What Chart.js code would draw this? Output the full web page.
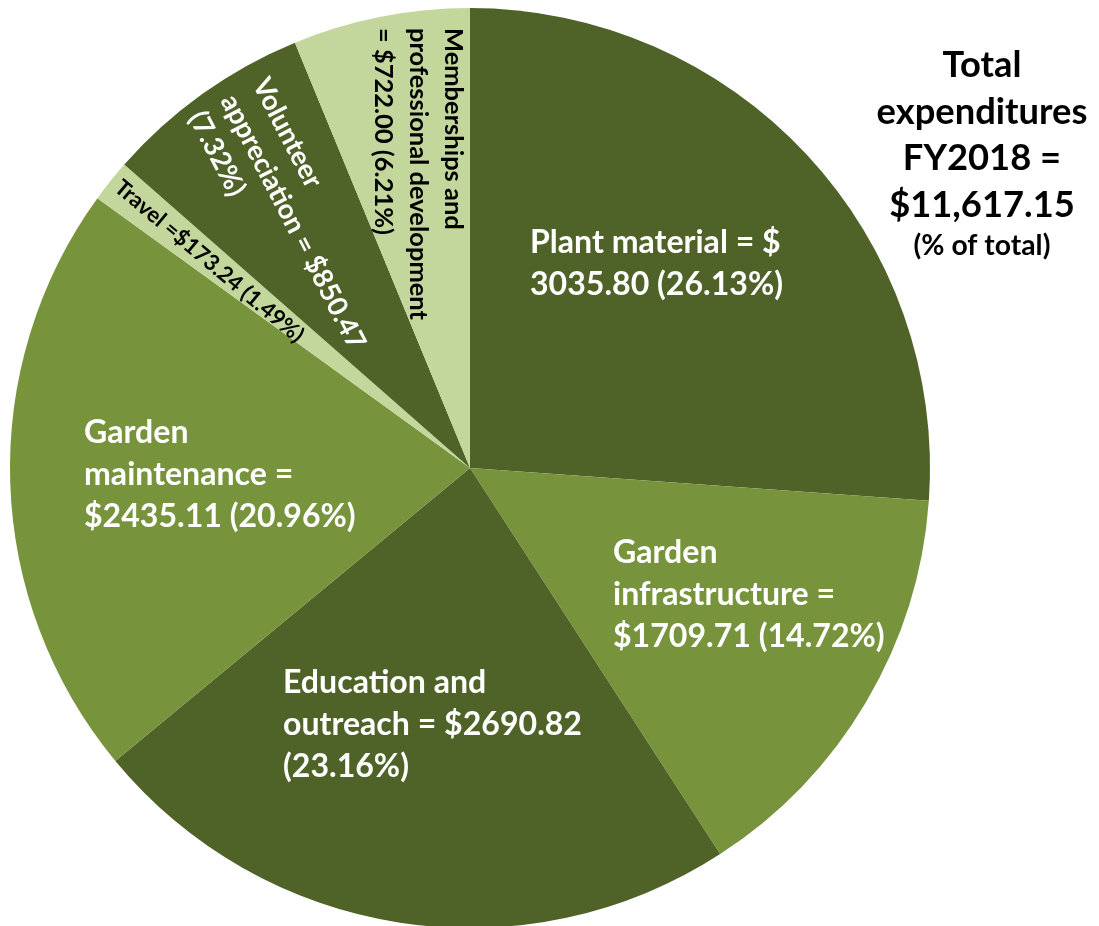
<!DOCTYPE html>
<html>
<head>
<meta charset="utf-8">
<script src="https://cdn.jsdelivr.net/npm/chart.js@4.4.0/dist/chart.umd.min.js"></script>
<style>
html,body{margin:0;padding:0;background:#fff;overflow:hidden;}
#wrap{position:absolute;left:0;top:0;width:1099px;height:940px;}
</style>
</head>
<body>
<div id="wrap"><canvas id="c" width="1099" height="940"></canvas></div>
<script>
// ---- data ----
const categories = ['Plant material', 'Garden infrastructure', 'Education and outreach', 'Garden maintenance', 'Travel', 'Volunteer appreciation', 'Memberships and professional development'];
const amounts = [3035.80, 1709.71, 2690.82, 2435.11, 173.24, 850.47, 722.00];
const sliceColors = ['#4F6228', '#77933C', '#4F6228', '#77933C', '#C3D69B', '#4F6228', '#C3D69B'];
const labelLines = [
  ['Plant material = $', '3035.80 (26.13%)'],
  ['Garden', 'infrastructure =', '$1709.71 (14.72%)'],
  ['Education and', 'outreach = $2690.82', '(23.16%)'],
  ['Garden', 'maintenance =', '$2435.11 (20.96%)'],
  ['Travel =$173.24 (1.49%)'],
  ['Volunteer', 'appreciation = $850.47', '(7.32%)'],
  ['Memberships and', 'professional development', '= $722.00 (6.21%)']
];
const titleLines = ['Total', 'expenditures', 'FY2018 =', '$11,617.15'];
const subtitleLine = '(% of total)';

// ---- layout / style ----
const FONT = 'Lato, "Open Sans", sans-serif';
const labelLayout = [
  {x: 530, y: 253, rot: 0,    size: 34, lh: 42, color: '#ffffff'},
  {x: 613, y: 563, rot: 0,    size: 34, lh: 42, color: '#ffffff'},
  {x: 283, y: 693, rot: 0,    size: 34, lh: 42, color: '#ffffff'},
  {x: 84,  y: 443, rot: 0,    size: 34, lh: 42, color: '#ffffff'},
  {x: 113, y: 190, rot: 40,   size: 23.5, lh: 28, color: '#000000'},
  {x: 252, y: 84,  rot: 62.6, size: 29, lh: 36, color: '#ffffff'},
  {x: 445, y: 28,  rot: 90,   size: 27, lh: 35, color: '#000000'}
];

function fontScale(ctx) {
  ctx.save();
  ctx.font = 'bold 100px ' + FONT;
  const w = ctx.measureText('expenditures').width;
  ctx.restore();
  return 547.7 / w; // Calibri-equivalent width of 'expenditures' at 100px
}

const labelPlugin = {
  id: 'sliceLabels',
  afterDraw(chart) {
    const ctx = chart.ctx;
    const k = fontScale(ctx);
    labelLayout.forEach((L, i) => {
      ctx.save();
      ctx.translate(L.x, L.y);
      ctx.rotate(L.rot * Math.PI / 180);
      ctx.font = 'bold ' + (L.size * k).toFixed(2) + 'px ' + FONT;
      ctx.fillStyle = L.color;
      ctx.textAlign = 'left';
      ctx.textBaseline = 'alphabetic';
      labelLines[i].forEach((t, j) => ctx.fillText(t, 0, j * L.lh));
      ctx.restore();
    });
    // title block
    ctx.save();
    ctx.fillStyle = '#000000';
    ctx.textAlign = 'center';
    ctx.textBaseline = 'alphabetic';
    ctx.font = 'bold ' + (38.5 * k).toFixed(2) + 'px ' + FONT;
    const tb = [77, 124, 170, 217];
    titleLines.forEach((t, j) => ctx.fillText(t, 982, tb[j]));
    ctx.font = 'bold ' + (30 * k).toFixed(2) + 'px ' + FONT;
    ctx.fillText(subtitleLine, 982, 255);
    ctx.restore();
  }
};

new Chart(document.getElementById('c'), {
  type: 'pie',
  data: {
    labels: categories,
    datasets: [{
      data: amounts,
      backgroundColor: sliceColors,
      borderWidth: 0,
      hoverOffset: 0,
      offset: 0
    }]
  },
  options: {
    responsive: false,
    animation: false,
    radius: 460,
    rotation: 0,
    layout: {padding: {left: 0, right: 159, top: 0, bottom: 4}},
    plugins: {
      legend: {display: false},
      tooltip: {enabled: false},
      title: {display: false}
    },
    events: []
  },
  plugins: [labelPlugin]
});
</script>
</body>
</html>
